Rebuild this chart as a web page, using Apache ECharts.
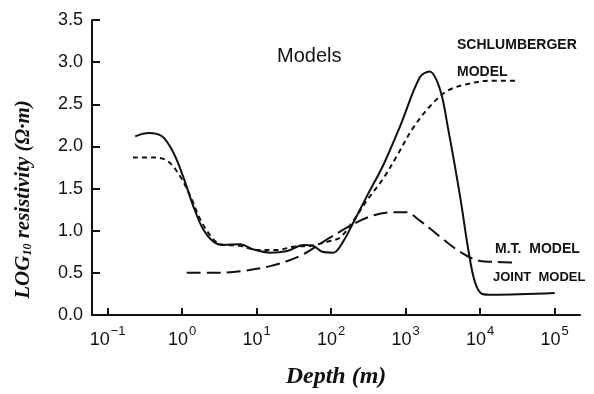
<!DOCTYPE html>
<html>
<head>
<meta charset="utf-8">
<script src="https://cdn.jsdelivr.net/npm/echarts@6/dist/echarts.min.js"></script>
<style>
html,body{margin:0;padding:0;background:#fff;}
#chart{width:594px;height:394px;}
</style>
</head>
<body>
<div id="chart"></div>
<script>
// x values are log10(depth in m); y values are log10(resistivity)
const jointDepthLog = [-0.63,-0.45,-0.27,-0.12,0.01,0.15,0.28,0.42,0.55,0.78,0.95,1.18,1.41,1.63,1.76,1.88,2.03,2.16,2.30,2.48,2.70,2.93,3.19,3.32,3.46,3.57,3.73,3.84,3.93,4.03,4.17,5.0];
const jointRho      = [2.12,2.16,2.12,1.93,1.65,1.29,1.02,0.87,0.83,0.84,0.78,0.74,0.76,0.83,0.82,0.75,0.74,0.87,1.10,1.41,1.78,2.25,2.82,2.89,2.68,2.21,1.41,0.78,0.39,0.25,0.24,0.26];

const schlDepthLog = [-0.66,-0.39,-0.20,-0.03,0.11,0.24,0.38,0.51,0.78,1.0,1.27,1.49,1.72,1.95,2.12,2.30,2.48,2.70,2.89,3.10,3.33,3.56,3.83,4.13,4.47];
const schlRho      = [1.87,1.87,1.83,1.65,1.41,1.14,0.94,0.84,0.82,0.77,0.77,0.81,0.82,0.87,0.92,1.12,1.36,1.62,1.90,2.22,2.48,2.66,2.74,2.78,2.78];

const mtDepthLog = [0.06,0.38,0.78,1.18,1.58,1.95,2.30,2.56,2.83,3.00,3.19,3.46,3.73,4.00,4.17,4.51];
const mtRho      = [0.50,0.50,0.52,0.58,0.70,0.90,1.08,1.18,1.22,1.22,1.12,0.93,0.75,0.64,0.63,0.62];

const xTickExponents = [-1,0,1,2,3,4,5];
const yTicks = [0,0.5,1,1.5,2,2.5,3,3.5];

const zip = (xs, ys) => xs.map((x, i) => [x, ys[i]]);
const sup = e => (e < 0 ? '\u2212' + Math.abs(e) : String(e));

const chart = echarts.init(document.getElementById('chart'));
const ink = '#111';
chart.setOption({
  backgroundColor: '#fff',
  animation: false,
  grid: {left: 92, right: 14, top: 20, bottom: 78},
  xAxis: {
    type: 'value', min: -1.21, max: 5.34,
    axisLine: {onZero: false, lineStyle: {color: ink, width: 2}},
    axisTick: {show: true, inside: true, length: 7, customValues: xTickExponents, lineStyle: {color: ink, width: 2}},
    axisLabel: {
      customValues: xTickExponents, margin: 10, color: ink,
      formatter: v => '{b|10}{s|' + sup(Math.round(v)) + '}',
      rich: {
        b: {fontFamily: 'Liberation Sans', fontSize: 18, lineHeight: 24, verticalAlign: 'bottom', color: ink},
        s: {fontFamily: 'Liberation Sans', fontSize: 13, lineHeight: 13, color: ink, verticalAlign: 'top', padding: [0,0,0,1]}
      }
    },
    splitLine: {show: false},
    name: 'Depth (m)', nameLocation: 'middle', nameGap: 50,
    nameTextStyle: {fontFamily: 'Liberation Serif', fontStyle: 'italic', fontWeight: 'bold', fontSize: 24, color: ink}
  },
  yAxis: {
    type: 'value', min: 0, max: 3.5, interval: 0.5,
    axisLine: {show: true, onZero: false, lineStyle: {color: ink, width: 2}},
    axisTick: {show: true, inside: true, length: 8, lineStyle: {color: ink, width: 2}},
    axisLabel: {color: ink, fontFamily: 'Liberation Sans', fontSize: 18, margin: 9, formatter: v => v.toFixed(1)},
    splitLine: {show: false},
    name: '{n|LOG}{sub|10}{n| resistivity (\u03A9\u00B7m)}', nameLocation: 'middle', nameGap: 58,
    nameTextStyle: {
      color: ink, padding: [0, 64, 0, 0],
      rich: {
        n: {fontFamily: 'Liberation Serif', fontStyle: 'italic', fontWeight: 'bold', fontSize: 21, color: ink},
        sub: {fontFamily: 'Liberation Serif', fontStyle: 'italic', fontWeight: 'bold', fontSize: 12, color: ink, verticalAlign: 'bottom', padding: [7,0,0,0]}
      }
    }
  },
  series: [
    {type: 'line', name: 'Joint model', data: zip(jointDepthLog, jointRho), smooth: 0.35, showSymbol: false,
     lineStyle: {color: ink, width: 2}},
    {type: 'line', name: 'Schlumberger model', data: zip(schlDepthLog, schlRho), smooth: 0.35, showSymbol: false,
     lineStyle: {color: ink, width: 2, type: [5, 4]}},
    {type: 'line', name: 'M.T. model', data: zip(mtDepthLog, mtRho), smooth: 0.35, showSymbol: false,
     lineStyle: {color: ink, width: 2, type: [14, 6]}}
  ],
  graphic: [
    {type: 'text', left: 277, top: 46, style: {text: 'Models', font: '20px "Liberation Sans"', fill: ink}},
    {type: 'text', left: 457, top: 38, style: {text: 'SCHLUMBERGER', font: 'bold 14px "Liberation Sans"', fill: ink}},
    {type: 'text', left: 457, top: 65, style: {text: 'MODEL', font: 'bold 14px "Liberation Sans"', fill: ink}},
    {type: 'text', left: 495, top: 242, style: {text: 'M.T.  MODEL', font: 'bold 14px "Liberation Sans"', fill: ink}},
    {type: 'text', left: 493, top: 271, style: {text: 'JOINT  MODEL', font: 'bold 13px "Liberation Sans"', fill: ink}}
  ]
});
</script>
</body>
</html>
